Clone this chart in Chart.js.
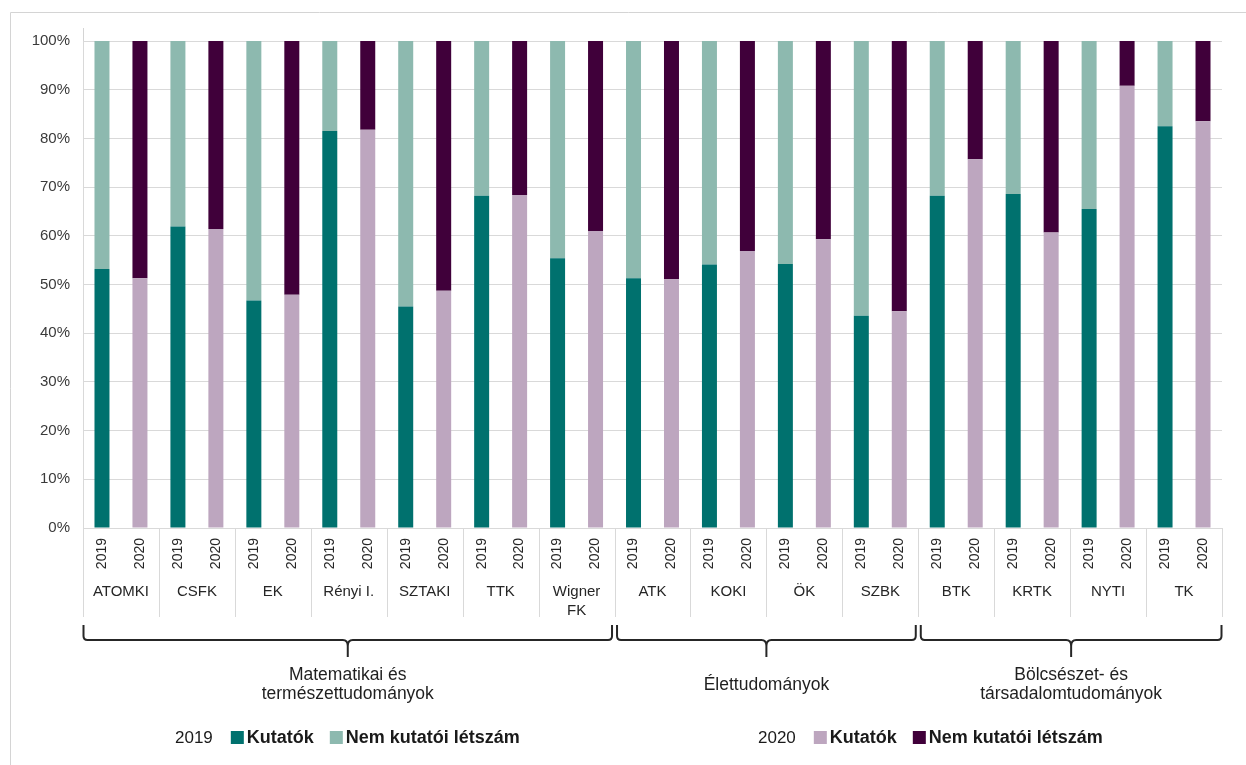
<!DOCTYPE html>
<html>
<head>
<meta charset="utf-8">
<script src="https://cdn.jsdelivr.net/npm/chart.js@4.4.1/dist/chart.umd.min.js"></script>
<style>
  html, body { margin: 0; padding: 0; background: #fff; }
  canvas { display: block; }
</style>
</head>
<body>
<canvas id="c" width="1246" height="765"></canvas>
<script>
// Institutes (in axis order) and the two survey years
const institutes = [['ATOMKI'], ['CSFK'], ['EK'], ['Rényi I.'], ['SZTAKI'], ['TTK'], ['Wigner', 'FK'],
                    ['ATK'], ['KOKI'], ['ÖK'], ['SZBK'],
                    ['BTK'], ['KRTK'], ['NYTI'], ['TK']];
const years = ['2019', '2020'];

// Scientific fields and how many institutes belong to each
const fieldNames = [['Matematikai és', 'természettudományok'], ['Élettudományok'], ['Bölcsészet- és', 'társadalomtudományok']];
const fieldSizes = [7, 4, 4];

// Share of staff (%) per institute
const researchers2019    = [53.2, 61.9, 46.7, 81.5, 45.5, 68.2, 55.4, 51.3, 54.1, 54.2, 43.6, 68.2, 68.6, 65.5, 82.5];
const nonResearchers2019 = [46.8, 38.1, 53.3, 18.5, 54.5, 31.8, 44.6, 48.7, 45.9, 45.8, 56.4, 31.8, 31.4, 34.5, 17.5];
const researchers2020    = [51.3, 61.4, 47.9, 81.8, 48.7, 68.4, 61.0, 51.1, 56.9, 59.3, 44.5, 75.7, 60.7, 90.8, 83.5];
const nonResearchers2020 = [48.7, 38.6, 52.1, 18.2, 51.3, 31.6, 39.0, 48.9, 43.1, 40.7, 55.5, 24.3, 39.3,  9.2, 16.5];

const seriesLabels = ['Kutatók', 'Nem kutatói létszám'];
const yTicks = [0, 10, 20, 30, 40, 50, 60, 70, 80, 90, 100];

const colors = {
  res2019: '#00716e',
  non2019: '#8db9af',
  res2020: '#bda6bf',
  non2020: '#40003a'
};

// One slot per institute-year; each year's series only fills its own slots
const labels = [];
institutes.forEach(n => years.forEach(y => labels.push(n.join(' ') + ' ' + y)));
const spread = (vals, yearIdx) => {
  const out = [];
  vals.forEach(v => { out.push(yearIdx === 0 ? v : null); out.push(yearIdx === 1 ? v : null); });
  return out;
};

const FONT = '"Liberation Sans", Arial, sans-serif';

const decor = {
  id: 'decor',
  afterDraw(chart) {
    const { ctx, chartArea: a, scales: { x } } = chart;
    const slot = (a.right - a.left) / labels.length;
    const edge = i => x.getPixelForValue(i) - slot / 2;   // left edge of slot i
    ctx.save();

    // outer frame
    ctx.strokeStyle = '#d4d4d4';
    ctx.lineWidth = 1;
    ctx.beginPath();
    ctx.moveTo(10.5, 765); ctx.lineTo(10.5, 12.5); ctx.lineTo(1246, 12.5);
    ctx.moveTo(Math.round(a.left) + 0.5, 28); ctx.lineTo(Math.round(a.left) + 0.5, a.top);
    ctx.stroke();

    // institute separators below the axis
    ctx.strokeStyle = '#d9d9d9';
    ctx.beginPath();
    for (let k = 0; k <= institutes.length; k++) {
      const px = Math.round(k === institutes.length ? a.right : edge(2 * k)) + 0.5;
      ctx.moveTo(px, a.bottom); ctx.lineTo(px, 617);
    }
    ctx.stroke();

    // institute names
    ctx.fillStyle = '#262626';
    ctx.font = '15px ' + FONT;
    ctx.textAlign = 'center';
    ctx.textBaseline = 'alphabetic';
    institutes.forEach((lines, k) => {
      const cx = (x.getPixelForValue(2 * k) + x.getPixelForValue(2 * k + 1)) / 2;
      lines.forEach((t, j) => ctx.fillText(t, cx, 596 + j * 19));
    });

    // field braces and names
    ctx.strokeStyle = '#262626';
    ctx.lineWidth = 2;
    let start = 0;
    fieldSizes.forEach((size, g) => {
      const end = start + size;
      const x0 = (start === 0 ? a.left : edge(2 * start)) + (start === 0 ? 0.5 : 2.5);
      const x1 = (end === institutes.length ? a.right : edge(2 * end)) - (end === institutes.length ? 0.5 : 2.5);
      const mid = (x0 + x1) / 2;
      const yTop = 625, yH = 640, yTip = 657, r = 4;
      ctx.beginPath();
      ctx.moveTo(x0, yTop);
      ctx.lineTo(x0, yH - r);
      ctx.quadraticCurveTo(x0, yH, x0 + r, yH);
      ctx.lineTo(mid - 5, yH);
      ctx.quadraticCurveTo(mid, yH, mid, yH + 6);
      ctx.lineTo(mid, yTip);
      ctx.moveTo(mid, yH + 6);
      ctx.quadraticCurveTo(mid, yH, mid + 5, yH);
      ctx.lineTo(x1 - r, yH);
      ctx.quadraticCurveTo(x1, yH, x1, yH - r);
      ctx.lineTo(x1, yTop);
      ctx.stroke();

      ctx.fillStyle = '#1f1f1f';
      ctx.font = '17.5px ' + FONT;
      const names = fieldNames[g];
      const base = names.length === 1 ? 690 : 680;
      names.forEach((t, j) => ctx.fillText(t, mid, base + j * 19));
      start = end;
    });

    // legend: one row per year
    const ds = chart.data.datasets;
    const legendRow = (year, x0, sets) => {
      const base = 743;
      ctx.textAlign = 'left';
      ctx.fillStyle = '#1a1a1a';
      ctx.font = '17px ' + FONT;
      ctx.fillText(year, x0, base);
      let cx = x0 + ctx.measureText(year).width + 18;
      sets.forEach(d => {
        ctx.fillStyle = d.backgroundColor;
        ctx.fillRect(cx, base - 12, 13, 13);
        cx += 16;
        ctx.fillStyle = '#1a1a1a';
        ctx.font = 'bold 18px ' + FONT;
        ctx.fillText(d.legendText, cx, base);
        cx += ctx.measureText(d.legendText).width + 16;
      });
    };
    legendRow(years[0], 175, [ds[0], ds[1]]);
    legendRow(years[1], 758, [ds[2], ds[3]]);

    ctx.restore();
  }
};

new Chart(document.getElementById('c'), {
  type: 'bar',
  data: {
    labels,
    datasets: [
      { label: years[0] + ' ' + seriesLabels[0], legendText: seriesLabels[0], data: spread(researchers2019, 0),    backgroundColor: colors.res2019 },
      { label: years[0] + ' ' + seriesLabels[1], legendText: seriesLabels[1], data: spread(nonResearchers2019, 0), backgroundColor: colors.non2019 },
      { label: years[1] + ' ' + seriesLabels[0], legendText: seriesLabels[0], data: spread(researchers2020, 1),    backgroundColor: colors.res2020 },
      { label: years[1] + ' ' + seriesLabels[1], legendText: seriesLabels[1], data: spread(nonResearchers2020, 1), backgroundColor: colors.non2020 }
    ]
  },
  options: {
    responsive: false,
    animation: false,
    devicePixelRatio: 1,
    layout: { padding: { top: 41, right: 24, left: 0, bottom: 0 } },
    datasets: { bar: { categoryPercentage: 1, barPercentage: 0.395, borderWidth: 0, skipNull: true } },
    plugins: { legend: { display: false }, tooltip: { enabled: false } },
    scales: {
      x: {
        stacked: true,
        grid: { display: false, drawTicks: false, tickLength: 0 },
        border: { display: true, color: '#d9d9d9' },
        ticks: {
          autoSkip: false,
          minRotation: 90,
          maxRotation: 90,
          padding: 10,
          color: '#262626',
          font: { family: FONT, size: 14 },
          callback: (v, i) => years[i % 2]
        },
        afterFit: s => { s.height = 237; }
      },
      y: {
        stacked: true,
        min: 0,
        max: 100,
        afterBuildTicks: s => { s.ticks = yTicks.map(v => ({ value: v })); },
        grid: { color: '#d9d9d9', drawTicks: false, tickLength: 0 },
        border: { display: true, color: '#d9d9d9' },
        ticks: {
          padding: 13,
          color: '#3a3a3a',
          font: { family: FONT, size: 15 },
          callback: v => v + '%'
        },
        afterFit: s => { s.width = 83; }
      }
    }
  },
  plugins: [decor]
});
</script>
</body>
</html>
